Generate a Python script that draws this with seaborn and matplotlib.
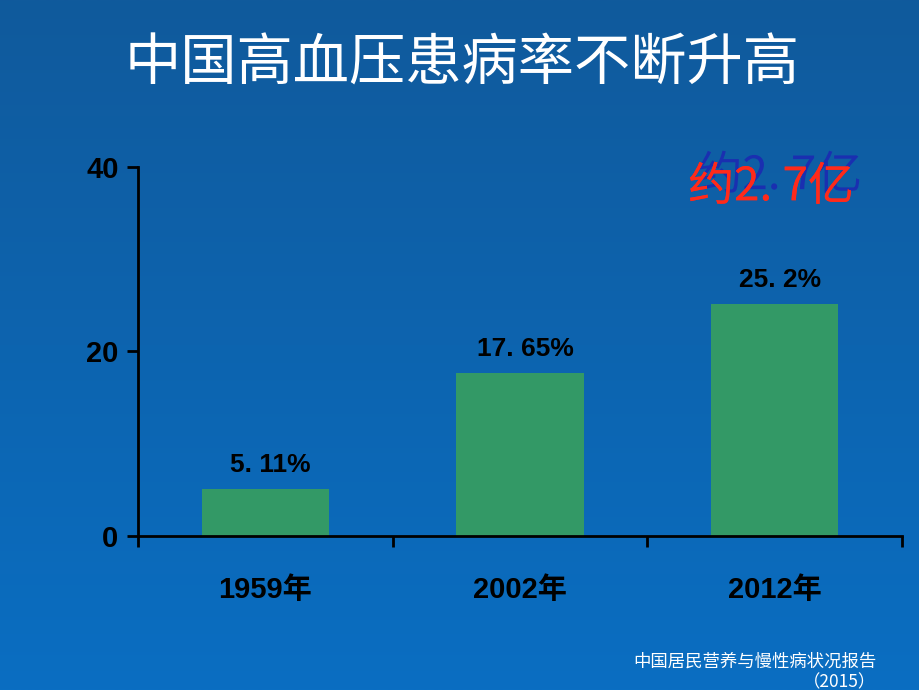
import numpy as np
import pandas as pd
import matplotlib
matplotlib.use("Agg")
import matplotlib.pyplot as plt
import matplotlib.patheffects as pe
import seaborn as sns

years = ["1959年", "2002年", "2012年"]
rates = [5.11, 17.65, 25.2]
value_labels = ["5. 11%", "17. 65%", "25. 2%"]
y_ticks = [0, 20, 40]
title = "中国高血压患病率不断升高"
note_line1 = "中国居民营养与慢性病状况报告"
note_line2 = "（2015）"
callout = "约2. 7亿"

sns.set_theme(style="white")
plt.rcParams['font.family'] = ['Liberation Sans', 'Noto Sans CJK SC', 'DejaVu Sans']
cjk = ['Noto Sans CJK SC', 'DejaVu Sans']
num = ['Liberation Sans', 'Noto Sans CJK SC']

fig = plt.figure(figsize=(9.2, 6.9), dpi=100)

# background gradient
bg = fig.add_axes([0, 0, 1, 1], zorder=0)
grad = np.linspace(0, 1, 256).reshape(-1, 1)
top = np.array([0x10, 0x5a, 0x9c]) / 255
bot = np.array([0x0a, 0x6e, 0xc2]) / 255
img = top[None, None, :] * (1 - grad[:, :, None]) + bot[None, None, :] * grad[:, :, None]
bg.imshow(img, aspect='auto', extent=[0, 1, 0, 1], origin='upper')
bg.set_axis_off()

ax = fig.add_axes([0.15, 0.2232, 0.8304, 0.5348], zorder=1)
ax.patch.set_alpha(0)
df = pd.DataFrame({"year": years, "rate": rates})
sns.barplot(data=df, x="year", y="rate", color="#339966", saturation=1, width=0.5,
            linewidth=0, edgecolor="none", ax=ax)

ax.set_xlim(-0.5, 2.5)
ax.set_ylim(0, 40)
ax.set_yticks(y_ticks)
ax.set_yticklabels([str(t) for t in y_ticks], fontsize=21, fontweight='bold', color='black', family=num)
ax.set_xticks(range(len(years)))
ax.set_xticklabels(years, fontsize=21, fontweight='bold', color='black', family=num)
ax.set_xticks([-0.5, 0.5, 1.5, 2.5], minor=True)
ax.tick_params(axis='x', which='major', length=0, pad=29)
ax.tick_params(axis='x', which='minor', length=8, width=2, color='black', direction='out', bottom=True)
ax.tick_params(axis='y', length=8, width=2, color='black', direction='out', left=True, pad=6)
ax.set_xlabel("")
ax.set_ylabel("")
for s in ['top', 'right']:
    ax.spines[s].set_visible(False)
for s in ['left', 'bottom']:
    ax.spines[s].set_color('black')
    ax.spines[s].set_linewidth(2)

for i, (v, lab) in enumerate(zip(rates, value_labels)):
    ax.text(i + 0.02, v + 2.6, lab, ha='center', va='center', fontsize=19,
            fontweight='bold', color='black', family=num)

# title
fig.text(0.502, 0.906, title, ha='center', va='center', fontsize=40.5, color='white', family=cjk)

# callout with offset blue shadow
fig.text(0.838, 0.729, callout, ha='center', va='center', fontsize=33, color='#ff2a1a', family=cjk,
         path_effects=[pe.withSimplePatchShadow(offset=(6, 8), shadow_rgbFace='#1a2fb0', alpha=1.0),
                       pe.Normal()])

# footnote
fig.text(0.821, 0.041, note_line1, ha='center', va='center', fontsize=12.5, color='white', family=cjk)
fig.text(0.913, 0.011, note_line2, ha='center', va='center', fontsize=12.5, color='white', family=cjk)

fig.savefig("out.png", dpi=100)
